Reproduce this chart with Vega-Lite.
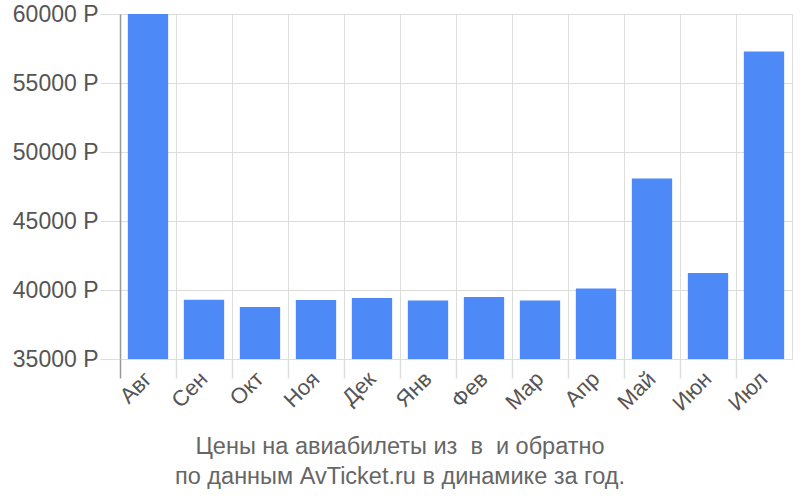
{
  "$schema": "https://vega.github.io/schema/vega-lite/v6.json",
  "autosize": "none",
  "width": 672,
  "height": 345,
  "padding": {"left": 120, "top": 14, "right": 8, "bottom": 141},
  "background": "white",
  "config": {
    "font": "Liberation Sans",
    "view": {"stroke": "#dddddd", "strokeWidth": 1}
  },
  "title": {
    "text": ["Цены на авиабилеты из \u00a0в \u00a0и обратно", "по данным AvTicket.ru в динамике за год."],
    "orient": "bottom",
    "anchor": "middle",
    "dx": -56,
    "offset": 21,
    "fontSize": 23.5,
    "fontWeight": "normal",
    "color": "#666666",
    "lineHeight": 30
  },
  "data": {
    "values": [
      {"month": "Авг", "price": 60000},
      {"month": "Сен", "price": 39300},
      {"month": "Окт", "price": 38770},
      {"month": "Ноя", "price": 39280},
      {"month": "Дек", "price": 39420},
      {"month": "Янв", "price": 39240},
      {"month": "Фев", "price": 39490},
      {"month": "Мар", "price": 39240},
      {"month": "Апр", "price": 40110},
      {"month": "Май", "price": 48080},
      {"month": "Июн", "price": 41230},
      {"month": "Июл", "price": 57280}
    ]
  },
  "resolve": {"axis": {"x": "independent"}},
  "layer": [
    {
      "mark": {"type": "bar", "color": "#4d8af7", "clip": true, "width": {"band": 0.72}},
      "encoding": {
        "x": {
          "field": "month",
          "type": "nominal",
          "sort": null,
          "scale": {"paddingInner": 0, "paddingOuter": 0},
          "axis": {
            "orient": "bottom",
            "title": null,
            "domain": false,
            "ticks": false,
            "grid": false,
            "labelAngle": -45,
            "labelAlign": "right",
            "labelBaseline": "middle",
            "labelFontSize": 22,
            "labelColor": "#555555",
            "labelPadding": 16
          }
        },
        "y": {
          "field": "price",
          "type": "quantitative",
          "scale": {"domain": [35000, 60000], "nice": false, "zero": false},
          "axis": {
            "title": null,
            "values": [35000, 40000, 45000, 50000, 55000, 60000],
            "format": "d",
            "labelExpr": "datum.label + ' Р'",
            "labelFontSize": 23,
            "labelColor": "#555555",
            "labelPadding": 2,
            "tickSize": 20,
            "tickColor": "#dddddd",
            "gridColor": "#dddddd",
            "domainColor": "#999999",
            "domainWidth": 1.5
          }
        }
      }
    },
    {
      "mark": {"type": "tick", "opacity": 0},
      "encoding": {
        "x": {
          "field": "month",
          "type": "nominal",
          "sort": null,
          "axis": {
            "orient": "bottom",
            "title": null,
            "domain": false,
            "labels": false,
            "ticks": true,
            "bandPosition": 0,
            "tickSize": 19,
            "tickColor": {"condition": {"test": "datum.value === 'Авг'", "value": "#999999"}, "value": "#dddddd"},
            "tickWidth": 1.5,
            "grid": true,
            "gridColor": "#dddddd"
          }
        },
        "y": {"field": "price", "type": "quantitative"}
      }
    }
  ]
}
